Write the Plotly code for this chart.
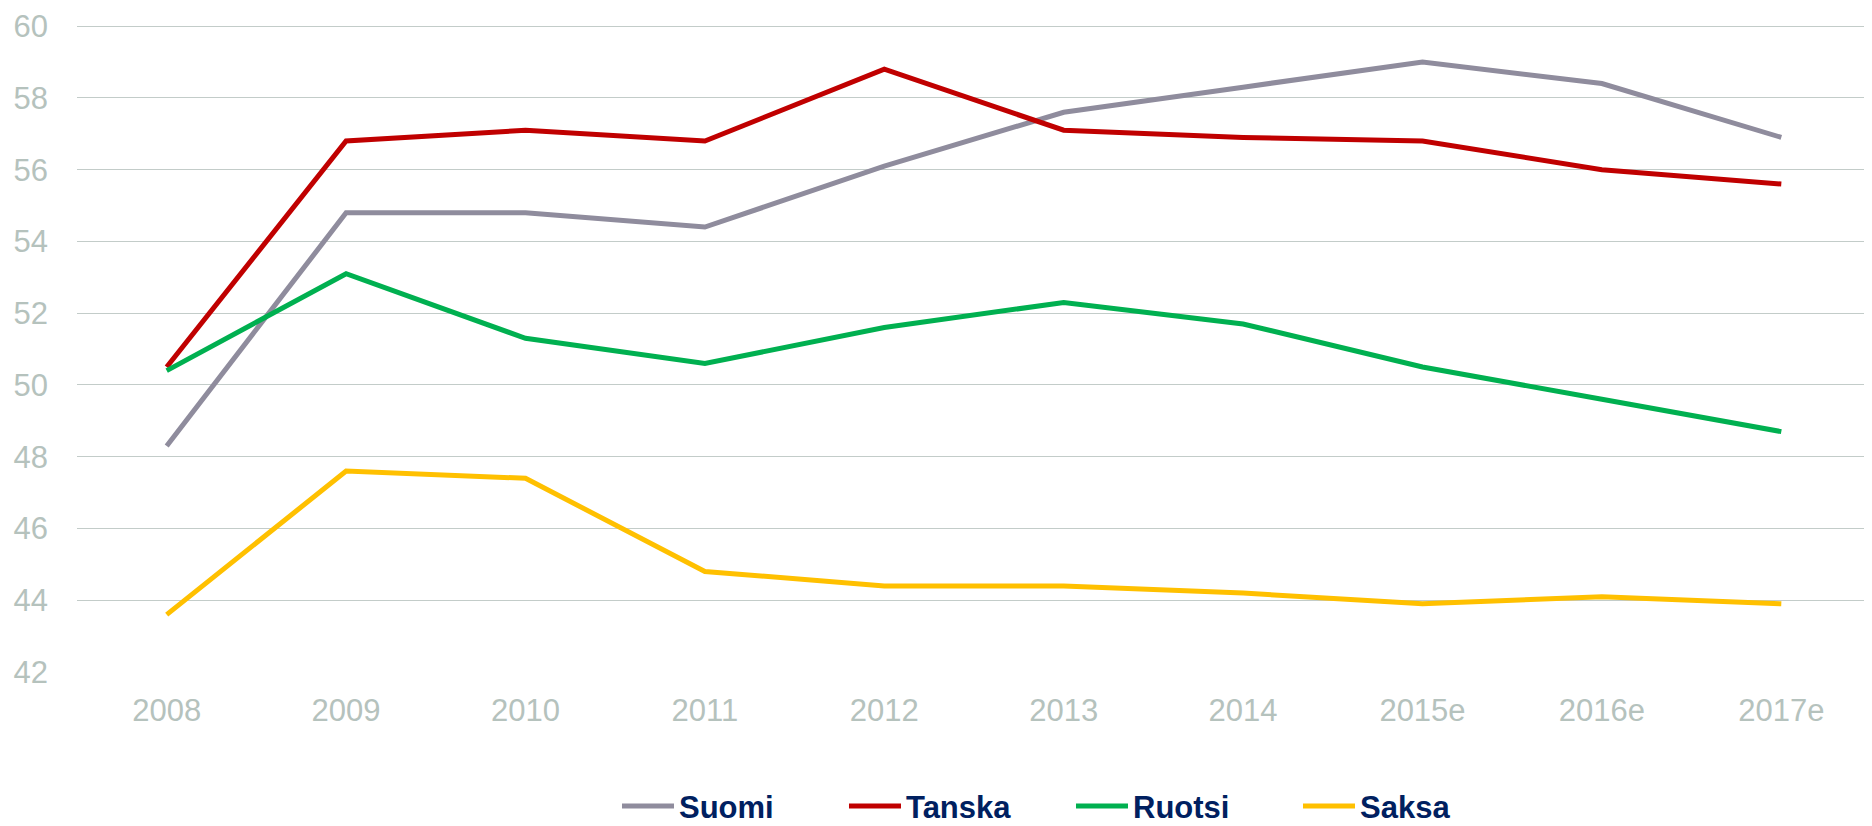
import plotly.graph_objects as go

years = ["2008", "2009", "2010", "2011", "2012", "2013", "2014", "2015e", "2016e", "2017e"]

suomi = [48.3, 54.8, 54.8, 54.4, 56.1, 57.6, 58.3, 59.0, 58.4, 56.9]
tanska = [50.5, 56.8, 57.1, 56.8, 58.8, 57.1, 56.9, 56.8, 56.0, 55.6]
ruotsi = [50.4, 53.1, 51.3, 50.6, 51.6, 52.3, 51.7, 50.5, 49.6, 48.7]
saksa = [43.6, 47.6, 47.4, 44.8, 44.4, 44.4, 44.2, 43.9, 44.1, 43.9]

series = [
    ("Suomi", suomi, "#8f8c9d"),
    ("Tanska", tanska, "#c00000"),
    ("Ruotsi", ruotsi, "#00b050"),
    ("Saksa", saksa, "#ffc000"),
]

fig = go.Figure()
for name, vals, color in series:
    fig.add_trace(
        go.Scatter(
            x=years,
            y=vals,
            name=name,
            mode="lines",
            line=dict(color=color, width=5),
        )
    )

tick_font = dict(family="Liberation Sans, Arial, sans-serif", size=31, color="#b5c2bd")

# page body has an 8px default margin, so the figure is shifted by 8px
fig.update_layout(
    width=1864,
    height=818,
    margin=dict(l=69, r=1, t=12, b=154),
    paper_bgcolor="white",
    plot_bgcolor="white",
    showlegend=True,
    legend=dict(
        orientation="h",
        x=0.301,
        xanchor="left",
        yref="container",
        y=0.024,
        yanchor="middle",
        itemwidth=52,
        entrywidth=160,
        entrywidthmode="pixels",
        font=dict(family="Liberation Sans Narrow, Arial Narrow, sans-serif", size=31, color="#002060", weight="bold"),
    ),
    xaxis=dict(
        type="category",
        range=[-0.5, 9.5],
        showgrid=False,
        showline=False,
        tickfont=tick_font,
        ticklabelstandoff=17,
    ),
    yaxis=dict(
        range=[42, 60.06],
        dtick=2,
        showgrid=True,
        gridcolor="#c3ccc9",
        gridwidth=1,
        zeroline=False,
        showline=False,
        tickfont=tick_font,
        ticklabelstandoff=28,
        ticklabeloverflow="allow",
    ),
)

fig.write_html("out.html")
